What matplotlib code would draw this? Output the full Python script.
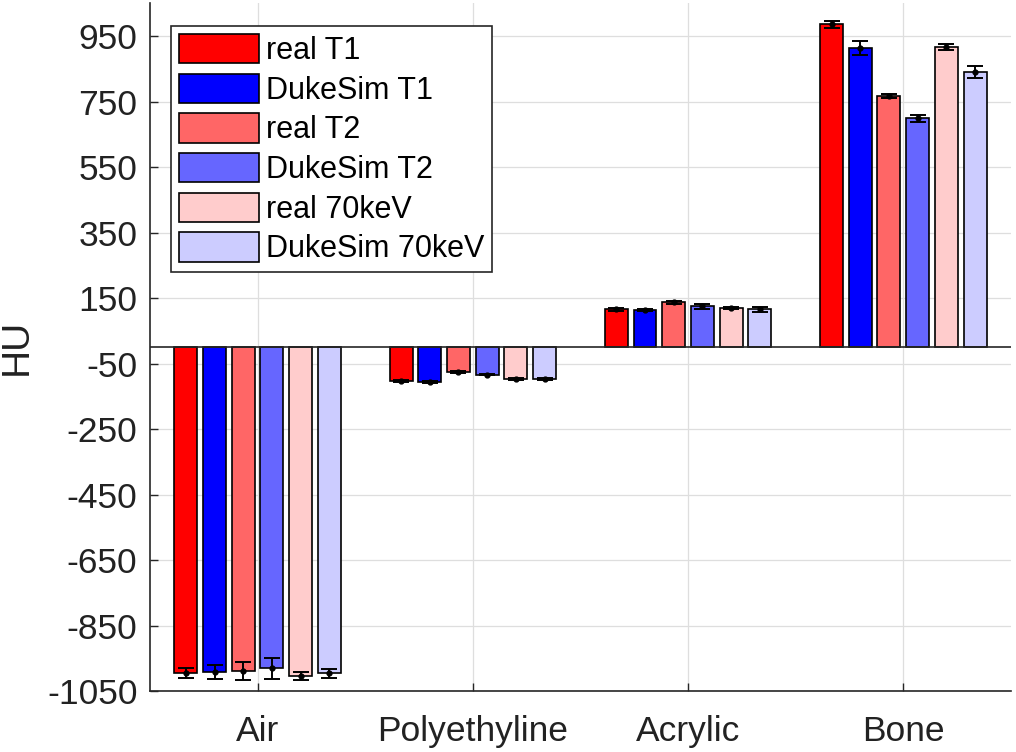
import numpy as np
import matplotlib
matplotlib.use("Agg")
import matplotlib.pyplot as plt

plt.rcParams['font.family'] = ['Liberation Sans', 'DejaVu Sans']
plt.rcParams['axes.unicode_minus'] = False

categories = ['Air', 'Polyethyline', 'Acrylic', 'Bone']
series_names = ['real T1', 'DukeSim T1', 'real T2', 'DukeSim T2', 'real 70keV', 'DukeSim 70keV']

real_t1 = [-994, -104, 116, 986]
duke_t1 = [-991, -106, 113, 913]
real_t2 = [-987, -75, 137, 766]
duke_t2 = [-980, -83, 125, 699]
real_70 = [-1002, -96, 120, 917]
duke_70 = [-995, -98, 116, 840]

real_t1_err = [16, 3, 4, 10]
duke_t1_err = [20, 3, 3, 21]
real_t2_err = [28, 2, 4, 6]
duke_t2_err = [32, 3, 7, 11]
real_70_err = [12, 3, 4, 8]
duke_70_err = [14, 3, 7, 18]

yticks = np.arange(-1050, 951, 200)

values = [real_t1, duke_t1, real_t2, duke_t2, real_70, duke_70]
errors = [real_t1_err, duke_t1_err, real_t2_err, duke_t2_err, real_70_err, duke_70_err]
colors = [(1, 0, 0), (0, 0, 1), (1, 0.4, 0.4), (0.4, 0.4, 1), (1, 0.8, 0.8), (0.8, 0.8, 1)]

dark = (0.15, 0.15, 0.15)

fig = plt.figure(figsize=(10.16, 7.52), dpi=100)
ax = fig.add_axes([0.1476, 0.0807, 0.8474, 0.9149])

x = np.arange(1, len(categories) + 1)
n = len(values)
step = 0.8 / n
width = step * 0.8

for i in range(n):
    xi = x + (i - (n - 1) / 2) * step
    ax.bar(xi, values[i], width, color=colors[i], edgecolor='black', linewidth=1.2,
           label=series_names[i], zorder=2)
    ax.errorbar(xi, values[i], yerr=errors[i], fmt='.', color='black', ecolor='black',
                markersize=7, elinewidth=1.4, capsize=5.8, capthick=1.4, zorder=3)

ax.axhline(0, color=dark, linewidth=1.2, zorder=2.5)

ax.set_xlim(0.5, 4.5)
ax.set_ylim(-1050, 1050)
ax.set_xticks(x)
ax.set_xticklabels(categories)
ax.set_yticks(yticks)

ax.grid(True, color=(0.87, 0.87, 0.87), linewidth=0.9)
ax.set_axisbelow(True)

for side in ['top', 'right']:
    ax.spines[side].set_visible(False)
for side in ['left', 'bottom']:
    ax.spines[side].set_color(dark)
    ax.spines[side].set_linewidth(1.2)

ax.tick_params(axis='y', direction='in', length=6, width=1, colors=dark,
               labelsize=25.5, pad=9)
ax.tick_params(axis='x', direction='in', length=6, width=1, colors=dark,
               labelsize=25.5, pad=17)
for lbl in ax.get_xticklabels() + ax.get_yticklabels():
    lbl.set_color('#222222')

ax.set_ylabel('HU', fontsize=28, color='#222222')
ax.yaxis.set_label_coords(-0.134, 0.5)

leg = ax.legend(loc='upper left', bbox_to_anchor=(0.025, 0.967), borderaxespad=0,
                fontsize=22, handlelength=2.6, handleheight=1.1, labelspacing=0.25,
                handletextpad=0.23, borderpad=0.26, fancybox=False, framealpha=1,
                edgecolor=dark)
leg.get_frame().set_linewidth(1.2)

fig.savefig('out.png', dpi=100)
